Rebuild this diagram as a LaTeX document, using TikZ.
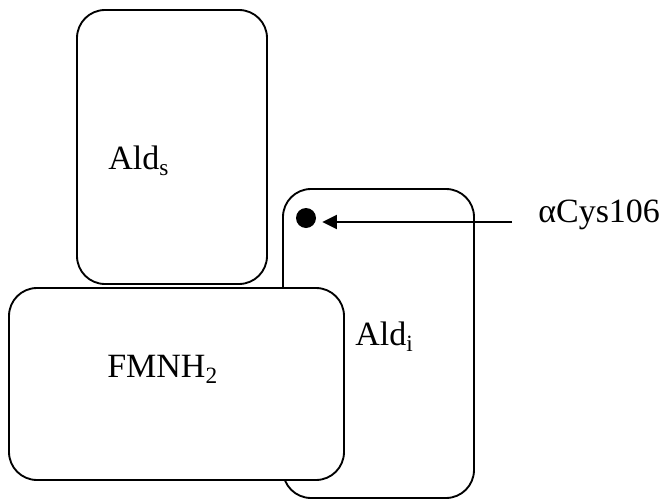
\documentclass[tikz,border=0pt]{standalone}
\usepackage{fontspec}
\setmainfont{Liberation Serif}
\usetikzlibrary{arrows.meta}
\newcommand\lowsub[1]{\raisebox{-0.2em}{\fontsize{17.5}{20}\selectfont #1}}
\begin{document}
\begin{tikzpicture}[x=0.75pt,y=-0.75pt,
  unitbox/.style={draw, line width=1.4pt, rounded corners=21pt, fill=white,
    inner sep=0pt, outer sep=0pt},
  lbl/.style={anchor=base west, inner sep=0pt,
    font=\fontsize{25.5}{30}\selectfont},
  arr/.style={line width=1.4pt, -{Triangle[length=11pt,width=10.5pt]}}]
\useasboundingbox (0,0) rectangle (665,500);
% subunit boxes; the flavin box is drawn last so it covers the Ald_i edge
\node[unitbox, minimum width=142.5pt, minimum height=205.5pt] (alds) at (172,147) {};
\node[unitbox, minimum width=143.25pt, minimum height=231.75pt] (aldi) at (378.5,343.5) {};
\node[unitbox, minimum width=251.25pt, minimum height=144pt] (fmn) at (176.5,384) {};
% labels
\node[lbl] (aldslbl) at (108,169) {Ald\lowsub{s}};
\node[lbl] (fmnlbl) at (107,377) {FMNH\lowsub{2}};
\node[lbl] (aldilbl) at (355,345) {Ald\lowsub{i}};
\node[lbl] (cyslbl) at (538,222) {αCys106};
% active-site cysteine and pointer
\node[circle, fill, minimum size=15pt, inner sep=0pt] (cys) at (306,218) {};
\coordinate (tail) at (512,222);
\draw[arr, shorten >=4.5pt] (tail) -- (tail -| cys.east);
\end{tikzpicture}
\end{document}
